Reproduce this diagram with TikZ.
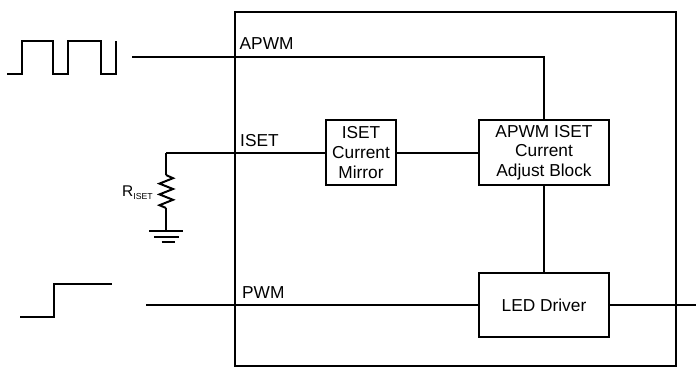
\documentclass[tikz,border=0pt]{standalone}
\usepackage{fontspec}
\setmainfont{Liberation Sans}
\tikzset{
  wire/.style={line width=2pt,line join=miter},
  blockbox/.style={draw,line width=2pt,inner sep=0pt,align=center,font=\fontsize{17.3}{19.7}\selectfont},
  pinlabel/.style={inner sep=0pt,anchor=base west,font=\fontsize{17.3}{20}\selectfont}
}
\begin{document}
\begin{tikzpicture}[x=1pt,y=-1pt]
\useasboundingbox (0,0) rectangle (696,367);
\node[draw,line width=2pt,inner sep=0pt,minimum width=441pt,minimum height=354pt] (chip) at (455,189) {};
\node[blockbox,minimum width=70pt,minimum height=65pt] (mirror) at (361,152.5) {ISET\\Current\\Mirror};
\node[blockbox,minimum width=130pt,minimum height=65pt] (adjust) at (544,152.5) {APWM ISET\\Current\\Adjust Block};
\node[blockbox,minimum width=130pt,minimum height=64pt] (driver) at (544,305) {LED Driver};
\coordinate (apwmin) at (132,57);
\coordinate (apwmturn) at (adjust.north |- apwmin);
\coordinate (isetturn) at (166,152.5);
\coordinate (rtop) at (166,175);
\coordinate (rbot) at (166,208);
\coordinate (gnd) at (166,231);
\coordinate (pwmin) at (146,305);
\coordinate (out) at (696,305);
\draw[wire] (apwmin) -- (apwmturn) -- (adjust.north);
\draw[wire] (isetturn) -- (mirror.west);
\draw[wire] (mirror.east) -- (adjust.west);
\draw[wire] (adjust.south) -- (driver.north);
\draw[wire] (pwmin) -- (driver.west);
\draw[wire] (driver.east) -- (out);
\draw[wire] (rtop) -- (isetturn);
\draw[wire] (rtop) -- ++(7,3.2) -- ++(-13.5,5.4) -- ++(13.5,5.4) -- ++(-13.5,5.4) -- ++(13.5,5.4) -- ++(-13.5,5.4) -- (rbot);
\draw[wire] (rbot) -- (gnd);
\draw[wire] (149,231) -- (183,231);
\draw[wire] (154,237) -- (179,237);
\draw[wire] (161.5,242) -- (174.5,242);
\draw[wire] (7,74) -- (22,74) -- (22,41) -- (53,41) -- (53,74) -- (68,74) -- (68,41) -- (101,41) -- (101,74) -- (116,74) -- (116,41);
\draw[wire] (20,317) -- (53.5,317) -- (53.5,284) -- (112,284);
\node[pinlabel] (lapwm) at (239.5,49.5) {APWM};
\node[pinlabel] (liset) at (240,146) {ISET};
\node[pinlabel] (lpwm) at (242,298) {PWM};
\node[inner sep=0pt,anchor=base west,font=\fontsize{15.5}{18}\selectfont] (lr) at (122,196.7) {R\raisebox{-3pt}{\fontsize{8.7}{10}\selectfont ISET}};
\end{tikzpicture}
\end{document}
